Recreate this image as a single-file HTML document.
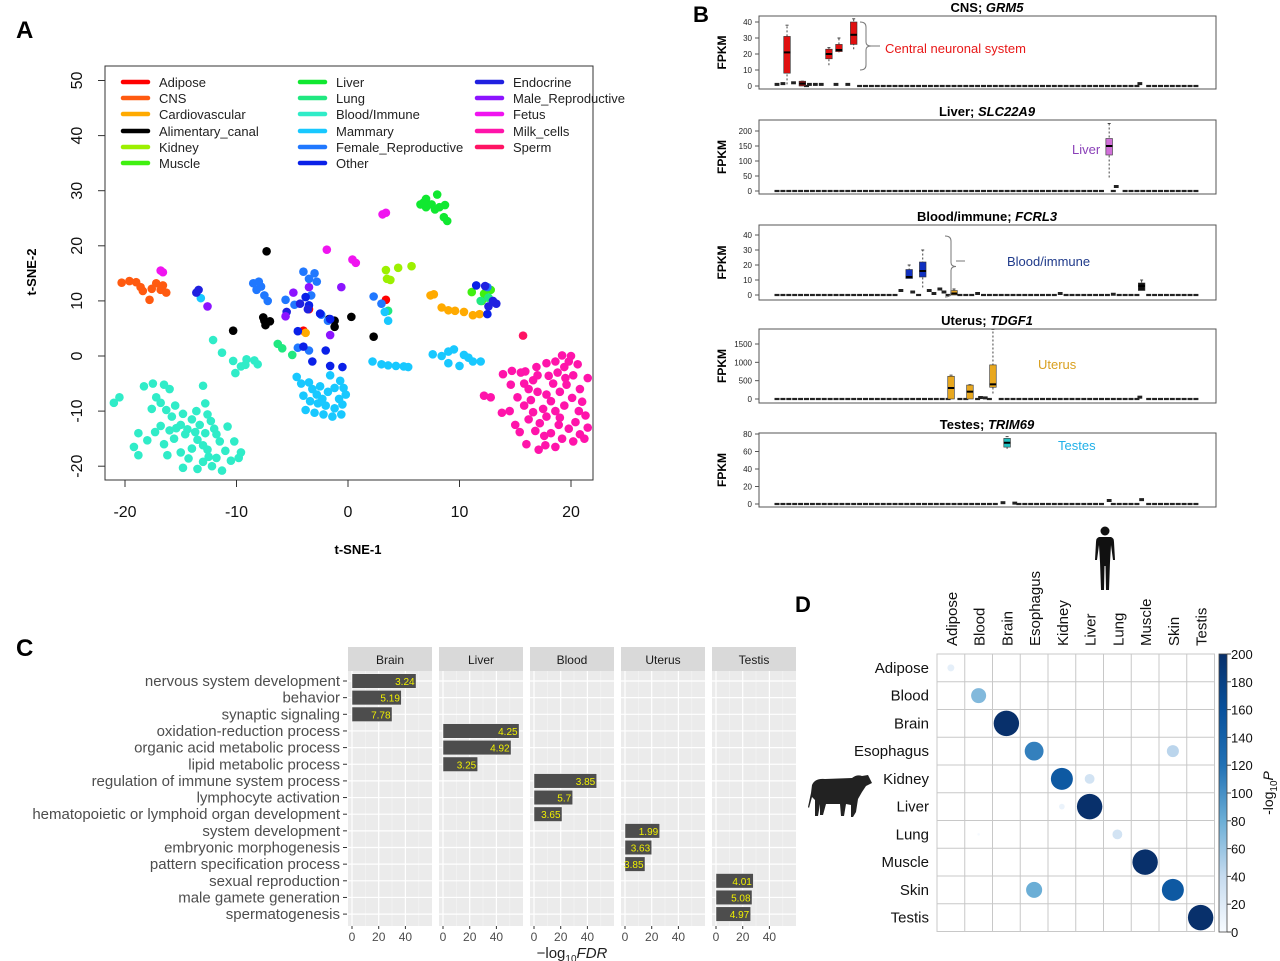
<!DOCTYPE html>
<html><head><meta charset="utf-8"><style>
html,body{margin:0;padding:0;background:#fff}
svg{display:block;font-family:"Liberation Sans",Arial,sans-serif}
</style></head><body>
<svg id="fig" width="1280" height="961" viewBox="0 0 1280 961">
<rect width="1280" height="961" fill="#fff"/>
<text x="16" y="38" font-size="24" font-weight="bold">A</text>
<text x="693" y="22" font-size="22" font-weight="bold">B</text>
<text x="16" y="656" font-size="24" font-weight="bold">C</text>
<text x="795" y="612" font-size="22" font-weight="bold">D</text>
<g id="pa"></g>
<g id="pb"></g>
<g id="pc"></g>
<g id="pd"></g>
</svg>
<script>
// ===== Panel A data =====
const tsneCats = ["Adipose","CNS","Cardiovascular","Alimentary_canal","Kidney","Muscle","Liver","Lung","Blood/Immune","Mammary","Female_Reproductive","Other","Endocrine","Male_Reproductive","Fetus","Milk_cells","Sperm"];
const tsneColors = ["#ff0000","#ff5a10","#ffaa00","#000000","#9cf000","#40f010","#10e830","#20e880","#30ecc8","#18c8ff","#2078ff","#0a20e8","#2020e0","#8c14ff","#f014f0","#ff14aa","#ff1464"];
const ptsMilk = [[15.8,-5],[16.2,-6],[15.5,-3],[15.9,-2.8],[16.6,-4.4],[17,-6.5],[16.4,-8],[15.8,-9],[16.6,-10.2],[16.2,-11.5],[17.2,-12.2],[16.8,-13.6],[17.6,-14.5],[18.2,-14],[17.8,-11],[17.5,-9.6],[18.2,-8.2],[17.8,-7],[18.4,-5],[18.8,-3],[19.4,-2],[19.8,-1],[20,0],[19.2,0.1],[20.6,-1.5],[20.2,-3.5],[19.6,-5.2],[20.8,-6],[20.1,-7.6],[19.4,-9],[20.7,-10],[20.4,-12],[19.8,-13.2],[20.8,-14.2],[21.5,-13],[21.2,-15],[20.2,-15.5],[19.2,-15],[18.6,-16.5],[17.7,-16.2],[19,-11.2],[18.6,-10],[19,-6.5],[21,-8.3],[21.3,-10.8],[14.5,-10],[13.8,-10.3],[15,-12.5],[15.2,-7.5],[14.6,-5.2],[14.7,-2.7],[16.9,-2],[17.8,-1.3],[18.6,-1],[18,-3.6],[21.5,-4],[13.9,-3.3],[15.4,-13.8],[18.9,-12.5],[17.1,-17],[12.2,-7.2],[12.8,-7.5],[16,-16],[19.5,-4],[17,-3.5]];
const ptsBlood = [[-21,-8.5],[-20.5,-7.5],[-18.3,-5.5],[-17.5,-5],[-17.2,-7.5],[-16.8,-8.5],[-16,-6],[-16.5,-5.2],[-15.5,-9],[-15.8,-11],[-14.8,-10.5],[-14,-11.5],[-13.6,-10],[-13.3,-12.5],[-13,-5.4],[-12.8,-8.6],[-12.6,-10.6],[-15,-12.5],[-16,-13.5],[-17.3,-13.8],[-18.8,-14],[-19.2,-16.5],[-18.8,-18],[-18,-15.3],[-16.5,-16],[-15.6,-15],[-14.6,-14.2],[-14,-16.8],[-13.5,-15.2],[-12.6,-17],[-12.8,-14],[-12,-13.2],[-11.5,-15.5],[-11,-17.2],[-10.8,-12.8],[-14.3,-18.6],[-15,-17.5],[-13,-19.2],[-12.2,-20],[-11.8,-18.5],[-10.5,-19],[-9.8,-18.5],[-9.6,-17.5],[-16.2,-18],[-16.8,-12.7],[-14.4,-13.3],[-13.7,-13.8],[-12.3,-11.8],[-15.4,-13.1],[-11.3,-20.8],[-13.5,-20.5],[-14.8,-20.3],[-13,-16.2],[-11.8,-14.2],[-12.5,-18.3],[-10.2,-15.5],[-17.6,-9.6],[-16.3,-9.8],[-12.1,2.9],[-11.3,0.6],[-10.3,-0.9],[-9.1,-0.6],[-10.1,-3.1],[-9.6,-1.9],[-9.2,-1.6],[-8.1,-1.5],[-8.4,-0.8]];
const ptsMammary = [[-4.6,-3.8],[-4.2,-5],[-3.5,-4.8],[-3.2,-6],[-2.8,-7],[-2.5,-5.5],[-1.8,-6.5],[-1.2,-5.8],[-0.7,-4.5],[-0.4,-5.8],[-0.2,-7],[-0.5,-8.8],[-1.2,-9.5],[-2,-9],[-2.7,-8.6],[-3.4,-8.2],[-3.8,-9.8],[-3,-10.3],[-2.2,-10.6],[-1.4,-11],[-0.6,-10.6],[-4,-7.2],[-1.6,-3.5],[-0.8,-7.8],[-2.3,-7.8],[2.2,-1],[3,-1.5],[3.6,-1.7],[4.3,-1.8],[5,-1.9],[5.4,-2],[7.6,0.3],[8.4,0],[9,0.8],[9.5,1.2],[10.4,0.2],[10.8,-0.3],[10,-1.8],[11.2,-1],[11.9,-1],[9,-1.3],[3.3,8],[3.6,6.4],[-13.2,10.5]];
const tsnePoints = [
 [[3.4,10.2],[-4,4.6],[-3.5,8.5]],
 [[-20.3,13.3],[-19.6,13.6],[-19,13.4],[-18.6,12.5],[-18.4,11.8],[-17.6,12.2],[-17.2,13.2],[-16.8,12],[-16.3,11.5],[-17.8,10.2],[-16.6,12.8]],
 [[7.4,11],[7.7,11.2],[8.4,8.8],[9,8.3],[9.6,8.2],[10.4,8],[11.2,7.4],[11.8,7.6],[-3.8,4.2]],
 [[-7.3,19],[-10.3,4.6],[-7.5,6.4],[-7,6.3],[-7.4,5.6],[-1.7,6.7],[-1.2,6.4],[-1.2,5.3],[0.3,7.1],[2.3,3.5],[-7.6,7.0]],
 [[3.4,15.6],[4.5,16],[5.7,16.3],[3.5,14],[3.8,13.8]],
 [[11.1,11.6],[12.2,11.3],[12.5,10.6],[12.8,12],[12.0,10.0]],
 [[6.5,27.5],[7,28.5],[7.5,27.5],[8,29.3],[8.2,27],[8.7,27.4],[7.8,26.6],[7.0,27],[8.6,25.2],[8.9,24.5],[6.8,27.9]],
 [[-6.3,2.2],[-5.9,1.4],[-5.0,0.2],[3.6,8.2],[12.6,10.6],[11.9,10]],
 ptsBlood,
 ptsMammary,
 [[-8.5,13.2],[-8,13.5],[-8.2,12],[-7.5,11],[-7.2,10],[-5.6,10.2],[-4.8,9.3],[-3.5,14],[-3,15],[-4,15.3],[-2.8,13.5],[-3.3,11],[-2.4,7.5],[-1.8,6.4],[-4.5,1.5],[2.3,10.8],[3,9.5],[12.5,12.5],[-3.5,1],[-7.8,12.6]],
 [[-3.8,10.7],[-3.5,9.2],[-2.5,7.7],[-4.5,4.5],[-4,1.7],[-1.6,6.7],[-2,1],[-3.2,-1],[-1.6,-1.8],[-0.5,-2],[11.5,12.8],[12.5,7.6]],
 [[-13.6,11.5],[-13.4,12],[-5.5,8],[-4.3,9.5],[-3.6,8.5],[12.3,12.7],[13,10],[13.3,9.5],[12.6,9.0]],
 [[-12.6,9],[-4.9,11.5],[-3.5,12.5],[-0.6,12.5],[-1.6,3.8],[-5.6,7.2]],
 [[-16.8,15.5],[-16.6,15.2],[-1.9,19.3],[0.4,17.5],[0.7,16.9],[3.1,25.7],[3.4,26]],
 ptsMilk,
 [[15.7,3.7]]
];
const tsneXTicks = [-20,-10,0,10,20];
const tsneYTicks = [-20,-10,0,10,20,30,40,50];

// ===== Panel B data =====
const bTitles = [["CNS; ","GRM5"],["Liver; ","SLC22A9"],["Blood/immune; ","FCRL3"],["Uterus; ","TDGF1"],["Testes; ","TRIM69"]];
const bTicks = [[0,10,20,30,40],[0,50,100,150,200],[0,10,20,30,40],[0,500,1000,1500],[0,20,40,60,80]];
// boxes: [sampleIndex, lowWhisker, q1, median, q3, highWhisker, color]
const bBoxes = [
 [[1.7,1,8,21,31,38,"#e01010"],[4.3,0,0,1.5,3,3,"#a01818"],[8.8,13,17,20,23,24,"#e01010"],[10.5,21,21.5,22.5,26,30,"#e01010"],[13,23,26,32,40,42,"#e01010"]],
 [[56.3,45,120,150,175,225,"#d070d8"]],
 [[22.4,11,11,12,17,20,"#1030c0"],[24.7,5,12,16,22,30,"#1030c0"],[30,0,0,1,3,4,"#e0a020"],[61.8,3,3,6,8,10,"#101010"]],
 [[29.5,0,0,300,620,650,"#e8a820"],[32.7,0,0,200,380,390,"#e8a820"],[36.6,150,320,400,930,1900,"#e8a820"]],
 [[39,63,65,70,75,77,"#20c0c0"]]
];
const bNSamples = 72;
const bExtraVals = [
 [[0,1],[1,1.5],[2.8,2],[5.5,1],[6.5,1],[7.5,1],[10,1],[12,1],[61.5,1.5]],
 [[57.5,15]],
 [[34,1],[21,3],[23,2],[25.8,3],[26.6,1],[27.6,4],[28.3,2],[48,1],[57,0.5]],
 [[34.5,40],[35.3,30],[61.5,50]],
 [[38.3,1.5],[40.3,1],[56.3,4],[61.8,5]]
];

// ===== Panel C data =====
const goTerms = ["nervous system development","behavior","synaptic signaling","oxidation-reduction process","organic acid metabolic process","lipid metabolic process","regulation of immune system process","lymphocyte activation","hematopoietic or lymphoid organ development","system development","embryonic morphogenesis","pattern specification process","sexual reproduction","male gamete generation","spermatogenesis"];
const goFacets = ["Brain","Liver","Blood","Uterus","Testis"];
const goFacetOf = [0,0,0,1,1,1,2,2,2,3,3,3,4,4,4];
const goValues = [48,37,30,57,51,26,47,29,21,26,20,15,28,27,26];
const goLabels = ["3.24","5.19","7.78","4.25","4.92","3.25","3.85","5.7","3.65","1.99","3.63","3.85","4.01","5.08","4.97"];
const goTicks = [0,20,40];

// ===== Panel D data =====
const dRows = ["Adipose","Blood","Brain","Esophagus","Kidney","Liver","Lung","Muscle","Skin","Testis"];
const dCols = ["Adipose","Blood","Brain","Esophagus","Kidney","Liver","Lung","Muscle","Skin","Testis"];
// [row, col, -log10P]
const dValues = [[0,0,15],[1,1,70],[2,2,200],[3,3,110],[3,8,45],[4,4,150],[4,5,30],[5,4,10],[5,5,200],[6,1,2],[6,6,30],[7,7,200],[8,3,80],[8,8,150],[9,9,200]];
const dTicks = [0,20,40,60,80,100,120,140,160,180,200];

// ===== helpers =====
const NS = "http://www.w3.org/2000/svg";
function mk(parent, tag, attrs, text){
  const e = document.createElementNS(NS, tag);
  for (const k in attrs) e.setAttribute(k, attrs[k]);
  if (text !== undefined) e.textContent = text;
  parent.appendChild(e);
  return e;
}

// ===== Panel A =====
(function(){
  const g = document.getElementById('pa');
  const L=105,R=593,T=66,B=480;
  const sx = v => 348 + v*11.15;
  const sy = v => 356 - v*5.51;
  const frame = mk(g,'rect',{x:L,y:T,width:R-L,height:B-T,fill:'none',stroke:'#333','stroke-width':1});
  
  
  tsneXTicks.forEach(t=>{
    const l = mk(g,'line',{x1:sx(t),x2:sx(t),y1:B,y2:B+7,stroke:'#333'});
    
    
    const tx = mk(g,'text',{x:sx(t),y:B+37,'font-size':16,'text-anchor':'middle',fill:'#111'},String(t));
    
    
  });
  tsneYTicks.forEach(t=>{
    const l = mk(g,'line',{x1:L-7,x2:L,y1:sy(t),y2:sy(t),stroke:'#333'});
    
    
    const tx = mk(g,'text',{x:82,y:sy(t),'font-size':16,'text-anchor':'middle',fill:'#111',transform:`rotate(-90 82 ${sy(t)})`},String(t));
    
    
  });
  const xt = mk(g,'text',{x:358,y:554,'font-size':13,'font-weight':'bold','text-anchor':'middle'},'t-SNE-1');
  
  
  const yt = mk(g,'text',{x:36,y:272,'font-size':13,'font-weight':'bold','text-anchor':'middle',transform:'rotate(-90 36 272)'},'t-SNE-2');
  
  
  tsnePoints.forEach((pts,ci)=>{
    pts.forEach(p=>{
      const c = mk(g,'circle',{cx:sx(p[0]),cy:sy(p[1]),r:4.3,fill:tsneColors[ci]});
      
      
    });
  });
  const colX=[121,298,475], rowY=[86,102,118,135,151,167];
  tsneCats.forEach((name,i)=>{
    const col=Math.floor(i/6), row=i%6;
    const y=rowY[row];
    const le = mk(g,'g',{});
    
    
    mk(le,'line',{x1:colX[col]+2,x2:colX[col]+27,y1:y-4,y2:y-4,stroke:tsneColors[i],'stroke-width':4.5,'stroke-linecap':'round'});
    mk(le,'text',{x:colX[col]+38,y:y+1,'font-size':13,fill:'#222'},name);
  });
})();

// ===== Panel B =====
(function(){
  const g = document.getElementById('pb');
  const L=759,R=1216;
  const panels=[[16,89,86,22],[120,194,191,131],[225,300,295,235],[329,403,399,344],[433,507,504,434]];
  const sxI = i => 777 + i*5.9;
  panels.forEach((pp,pi)=>{
    const [T,B,y0,yTop]=pp;
    const maxTick = bTicks[pi][bTicks[pi].length-1];
    const sy = v => y0 - (v/maxTick)*(y0-yTop);
    const pg = mk(g,'g',{});
    
    
    mk(pg,'rect',{x:L,y:T,width:R-L,height:B-T,fill:'none',stroke:'#555','stroke-width':1});
    const tt = mk(pg,'text',{x:987,y:T-4,'font-size':13,'font-weight':'bold','text-anchor':'middle'});
    mk(tt,'tspan',{},bTitles[pi][0]);
    mk(tt,'tspan',{'font-style':'italic'},bTitles[pi][1]);
    
    
    const yl = mk(pg,'text',{x:726,y:(T+B)/2,'font-size':12,'font-weight':'bold','text-anchor':'middle',transform:`rotate(-90 726 ${(T+B)/2})`},'FPKM');
    
    
    bTicks[pi].forEach(t=>{
      mk(pg,'line',{x1:L-4,x2:L,y1:sy(t),y2:sy(t),stroke:'#555'});
      const tx = mk(pg,'text',{x:L-7,y:sy(t)+3,'font-size':8,'text-anchor':'end',fill:'#222'},String(t));
      
      
    });
    const boxIdx = bBoxes[pi].map(b=>Math.round(b[0]));
    const extraIdx = bExtraVals[pi].map(e=>Math.round(e[0]));
    for(let i=0;i<bNSamples;i++){
      if(boxIdx.includes(i)||extraIdx.includes(i)) continue;
      const d = mk(pg,'rect',{x:sxI(i)-2.5,y:sy(0)-1.1,width:5,height:2.2,fill:'#222'});
      
      
    }
    bExtraVals[pi].forEach(e=>{
      const d = mk(pg,'rect',{x:sxI(e[0])-2.4,y:sy(e[1])-1.5,width:4.8,height:3,fill:'#222'});
      
      
    });
    bBoxes[pi].forEach(b=>{
      const [i,lo,q1,md,q3,hi,col]=b; const x=sxI(i);
      const bg = mk(pg,'g',{});
      
      
      mk(bg,'line',{x1:x,x2:x,y1:sy(lo),y2:sy(hi),stroke:'#444','stroke-dasharray':'2,2'});
      mk(bg,'line',{x1:x-1.5,x2:x+1.5,y1:sy(hi),y2:sy(hi),stroke:'#444'});
      mk(bg,'rect',{x:x-3.3,y:sy(q3),width:6.6,height:Math.max(2,sy(q1)-sy(q3)),fill:col,stroke:'#333','stroke-width':0.6});
      mk(bg,'line',{x1:x-3.3,x2:x+3.3,y1:sy(md),y2:sy(md),stroke:'#000','stroke-width':2});
    });
  });
  function brace(x,y1,y2){
    const m=(y1+y2)/2;
    return `M${x},${y1} q6,0 6,5 L${x+6},${m-4} q0,4 5,4 q-5,0 -5,4 L${x+6},${y2-5} q0,5 -6,5`;
  }
  const b1 = mk(g,'path',{d:brace(860,22,70),fill:'none',stroke:'#777','stroke-width':1});
  
  
  mk(g,'line',{x1:871,x2:880,y1:46,y2:46,stroke:'#777'});
  const a1 = mk(g,'text',{x:885,y:53,'font-size':13,fill:'#e81818'},'Central neuronal system');
  
  
  const a2 = mk(g,'text',{x:1072,y:154,'font-size':13,fill:'#8a40b8'},'Liver');
  
  
  const b3 = mk(g,'path',{d:brace(945,236,297),fill:'none',stroke:'#777','stroke-width':1});
  
  
  mk(g,'line',{x1:956,x2:965,y1:261,y2:261,stroke:'#777'});
  const a3 = mk(g,'text',{x:1007,y:266,'font-size':13,fill:'#1f3a8a'},'Blood/immune');
  
  
  const a4 = mk(g,'text',{x:1038,y:369,'font-size':13,fill:'#d9a020'},'Uterus');
  
  
  const a5 = mk(g,'text',{x:1058,y:450,'font-size':13,fill:'#20b0e8'},'Testes');
  
  
})();

// ===== Panel C =====
(function(){
  const g = document.getElementById('pc');
  const fx=[348,439,530,621,712], fw=84, T=671, B=926;
  const rowY = i => 681 + i*16.65;
  const unit = 1.335;
  goFacets.forEach((f,fi)=>{
    const x0=fx[fi];
    const sx = v => x0+4+v*unit;
    const fg = mk(g,'g',{});
    
    
    mk(fg,'rect',{x:x0,y:647,width:fw,height:24,fill:'#d9d9d9'});
    mk(fg,'text',{x:x0+fw/2,y:664,'font-size':12,'text-anchor':'middle',fill:'#1a1a1a'},f);
    mk(fg,'rect',{x:x0,y:T,width:fw,height:B-T,fill:'#ebebeb'});
    [10,30,50].forEach(v=>mk(fg,'line',{x1:sx(v),x2:sx(v),y1:T,y2:B,stroke:'#f5f5f5','stroke-width':0.6}));
    goTicks.forEach(v=>mk(fg,'line',{x1:sx(v),x2:sx(v),y1:T,y2:B,stroke:'#fff','stroke-width':1.2}));
    goTerms.forEach((t,i)=>mk(fg,'line',{x1:x0,x2:x0+fw,y1:rowY(i),y2:rowY(i),stroke:'#fff','stroke-width':1.2}));
    goTicks.forEach(v=>{
      mk(fg,'line',{x1:sx(v),x2:sx(v),y1:B,y2:B+3,stroke:'#333'});
      const tx = mk(fg,'text',{x:sx(v),y:941,'font-size':12,'text-anchor':'middle',fill:'#4d4d4d'},String(v));
      
      
    });
  });
  goTerms.forEach((t,i)=>{
    const fi=goFacetOf[i], x0=fx[fi];
    const lb = mk(g,'text',{x:340,y:rowY(i)+5,'font-size':15,'text-anchor':'end',fill:'#4d4d4d'},t);
    
    
    mk(g,'line',{x1:343,x2:347,y1:rowY(i),y2:rowY(i),stroke:'#333'});
    const w = goValues[i]*unit;
    const bar = mk(g,'rect',{x:x0+4,y:rowY(i)-7.3,width:w,height:14.6,fill:'#4d4d4d',stroke:'#fff','stroke-width':0.5});
    
    
    const vl = mk(g,'text',{x:x0+4+w-1.5,y:rowY(i)+4,'font-size':10,'text-anchor':'end',fill:'#f0f000'},goLabels[i]);
    
    
  });
  const xt = mk(g,'text',{x:572,y:958,'font-size':15,'text-anchor':'middle',fill:'#222'});
  mk(xt,'tspan',{},'\u2212log');
  mk(xt,'tspan',{'font-size':10,dy:4},'10');
  mk(xt,'tspan',{'font-style':'italic',dy:-4},'FDR');
  
  
})();

// ===== Panel D =====
(function(){
  const g = document.getElementById('pd');
  const L=937, T=654, cs=27.75, n=10;
  const stops=[[0,[247,251,255]],[40,[198,219,239]],[80,[107,174,214]],[120,[33,113,181]],[160,[8,81,156]],[200,[8,48,107]]];
  function col(v){
    for(let i=0;i<stops.length-1;i++){
      const [a,ca]=stops[i],[b,cb]=stops[i+1];
      if(v<=b){const t=(v-a)/(b-a);return 'rgb('+ca.map((c,k)=>Math.round(c+(cb[k]-c)*t)).join(',')+')';}
    }
    return 'rgb(8,48,107)';
  }
  mk(g,'rect',{x:L,y:T,width:cs*n,height:cs*n,fill:'#fff',stroke:'#c8c8c8'});
  for(let i=1;i<n;i++){
    mk(g,'line',{x1:L+i*cs,x2:L+i*cs,y1:T,y2:T+cs*n,stroke:'#c8c8c8','stroke-width':1});
    mk(g,'line',{x1:L,x2:L+cs*n,y1:T+i*cs,y2:T+i*cs,stroke:'#c8c8c8','stroke-width':1});
  }
  dRows.forEach((r,i)=>{
    const t = mk(g,'text',{x:929,y:T+i*cs+cs/2+5,'font-size':15,'text-anchor':'end',fill:'#111'},r);
    
    
  });
  dCols.forEach((c,i)=>{
    const x=L+i*cs+cs/2+6, y=646;
    const t = mk(g,'text',{x:x,y:y,'font-size':15,fill:'#111',transform:`rotate(-90 ${x} ${y})`},c);
    
    
  });
  dValues.forEach(d=>{
    const [r,c,v]=d;
    const cir = mk(g,'circle',{cx:L+c*cs+cs/2,cy:T+r*cs+cs/2,r:12.7*Math.sqrt(v/200),fill:col(v)});
    
    
  });
  const defs = mk(g,'defs',{});
  const lg = mk(defs,'linearGradient',{id:'cb',x1:0,y1:1,x2:0,y2:0});
  stops.forEach(s=>mk(lg,'stop',{offset:s[0]/200,'stop-color':'rgb('+s[1].join(',')+')'}));
  const cbT=654, cbB=932;
  const cb = mk(g,'rect',{x:1219,y:cbT,width:8,height:cbB-cbT,fill:'url(#cb)',stroke:'#444','stroke-width':0.8});
  
  
  dTicks.forEach(t=>{
    const y = cbB-(t/200)*(cbB-cbT);
    mk(g,'line',{x1:1227,x2:1231,y1:y,y2:y,stroke:'#444'});
    const tx = mk(g,'text',{x:1231,y:y+5,'font-size':13,fill:'#111'},String(t));
    
    
  });
  const ct = mk(g,'text',{x:1273,y:793,'font-size':14,'text-anchor':'middle',fill:'#111',transform:'rotate(-90 1273 793)'});
  mk(ct,'tspan',{},'-log');
  mk(ct,'tspan',{'font-size':10,dy:4},'10');
  mk(ct,'tspan',{'font-style':'italic',dy:-4},'P');
  
  
  const h = mk(g,'g',{fill:'#111'});
  
  
  mk(h,'circle',{cx:1105,cy:531,r:4.5});
  mk(h,'path',{d:'M1099,537 L1111,537 Q1114,538 1114,542 L1115,560 L1113,560 L1111,545 L1110,562 L1109,590 L1106,590 L1105.5,566 L1104.5,566 L1104,590 L1101,590 L1100,562 L1099,545 L1097,560 L1095,560 L1096,542 Q1096,538 1099,537 Z'});
  const cw = mk(g,'g',{fill:'#222'});
  
  
  mk(cw,'path',{d:'M812,785 Q815,778 825,779 L852,778 Q857,774 862,776 L868,775 L872,783 L866,786 L862,792 L858,799 L856,812 L853,817 L851,817 L851,805 L846,804 L844,816 L841,816 L840,804 L826,804 L823,815 L820,815 L820,804 L818,816 L815,816 L815,800 L812,797 L809,808 L808,807 L811,793 Z'});
})();
</script>
</body></html>
